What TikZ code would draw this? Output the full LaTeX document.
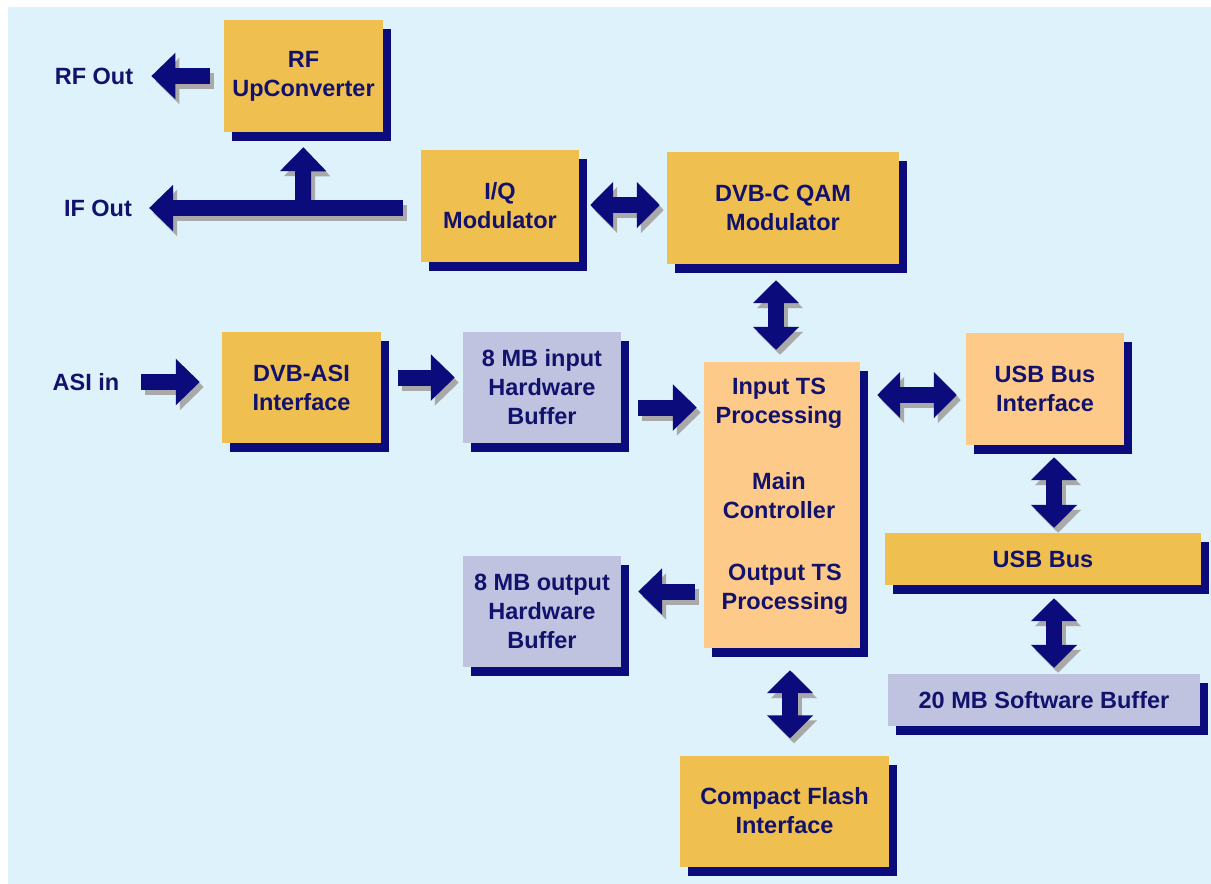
\documentclass[tikz,border=0pt]{standalone}
\usepackage{fontspec}
\setmainfont{Liberation Sans}
\usetikzlibrary{arrows.meta,shadows,calc}
\definecolor{bgblue}{HTML}{DDF2FA}
\definecolor{gold}{HTML}{EFBF50}
\definecolor{lorange}{HTML}{FDCA8A}
\definecolor{lavender}{HTML}{BFC3DF}
\definecolor{navy}{HTML}{0B0B7B}
\definecolor{txtnavy}{HTML}{12126C}
\definecolor{arrshadow}{HTML}{A9A9A9}
\tikzset{
  box/.style={rectangle, inner sep=0pt, text=txtnavy, align=center,
    font=\fontsize{23.5}{29}\selectfont\bfseries,
    drop shadow={shadow xshift=8pt, shadow yshift=-9pt, fill=navy, opacity=1}},
  goldbox/.style={box, fill=gold},
  orbox/.style={box, fill=lorange},
  lavbox/.style={box, fill=lavender},
  lbl/.style={inner sep=0pt, text=txtnavy, font=\fontsize{23.5}{29}\selectfont\bfseries},
  intext/.style={inner sep=0pt, text=txtnavy, align=center, font=\fontsize{23.5}{29}\selectfont\bfseries},
  harr/.style={line width=16pt, -{Triangle[length=24pt, width=45pt]}},
  darr/.style={line width=16pt, {Triangle[length=23pt, width=45pt]}-{Triangle[length=23pt, width=45pt]}},
  shadowpass/.style={draw=arrshadow, transform canvas={shift={(4pt,-5pt)}}},
  mainpass/.style={draw=navy}
}
\newcommand{\allarrows}[1]{%
\draw[#1, harr, shorten <=14pt, shorten >=18pt] (rf.west) -- (rflbl.east);
\draw[#1, harr, shorten <=18pt, shorten >=17pt] (iq.west |- ifj) -- (iflbl.east |- ifj);
\draw[#1, harr, shorten >=15pt] (ifj) -- (rf.south);
\draw[#1, darr, shorten <=11pt, shorten >=7pt] ([yshift=1pt]iq.east) -- ([yshift=1pt]iq.east -| qam.west);
\draw[#1, darr, shorten <=16pt, shorten >=12pt] ([xshift=-7pt]qam.south) -- ([xshift=-7pt]qam.south |- main.north);
\draw[#1, harr, shorten <=22pt, shorten >=22pt] (asilbl.east) -- (asilbl.east -| asi.west);
\draw[#1, harr, shorten <=17pt, shorten >=8pt] ([yshift=10pt]asi.east) -- ([yshift=10pt]asi.east -| inbuf.west);
\draw[#1, harr, shorten <=17pt, shorten >=7pt] ([yshift=-20pt]inbuf.east) -- ([yshift=-20pt]inbuf.east -| main.west);
\draw[#1, darr, shorten <=17pt, shorten >=9pt] ([yshift=-6pt]usbif.west -| main.east) -- ([yshift=-6pt]usbif.west);
\draw[#1, darr, shorten <=12pt, shorten >=5pt] ([xshift=9pt]usbif.south) -- ([xshift=9pt]usbif.south |- usb.north);
\draw[#1, darr, shorten <=13pt, shorten >=6pt] ([xshift=11pt]usb.south) -- ([xshift=11pt]usb.south |- swbuf.north);
\draw[#1, harr, shorten <=9pt, shorten >=17pt] ([yshift=20pt]outbuf.east -| main.west) -- ([yshift=20pt]outbuf.east);
\draw[#1, darr, shorten <=22pt, shorten >=17pt] ([xshift=8pt]main.south) -- ([xshift=8pt]main.south |- cf.north);
}
\begin{document}
\begin{tikzpicture}[x=1pt, y=-1pt]
\useasboundingbox (0,0) rectangle (1211,884);
\fill[white] (0,0) rectangle (1211,884);
\fill[bgblue] (8,7) rectangle (1211,884);

% boxes
\node[goldbox, minimum width=159pt, minimum height=112pt] (rf) at (303.5,76) {RF\\UpConverter};
\node[goldbox, minimum width=158pt, minimum height=112pt] (iq) at (500,206) {I/Q\\Modulator};
\node[goldbox, minimum width=232pt, minimum height=112pt] (qam) at (783,208) {DVB-C QAM\\Modulator};
\node[goldbox, minimum width=159pt, minimum height=111pt] (asi) at (301.5,387.5) {DVB-ASI\\Interface};
\node[lavbox, minimum width=158pt, minimum height=111pt] (inbuf) at (542,387.5) {8 MB input\\Hardware\\Buffer};
\node[orbox, minimum width=156pt, minimum height=286pt] (main) at (782,505) {};
\node[orbox, minimum width=158pt, minimum height=112pt] (usbif) at (1045,389) {USB Bus\\Interface};
\node[goldbox, minimum width=316pt, minimum height=52pt] (usb) at (1043,559) {USB Bus};
\node[lavbox, minimum width=312pt, minimum height=52pt] (swbuf) at (1044,700) {20 MB Software Buffer};
\node[lavbox, minimum width=158pt, minimum height=111pt] (outbuf) at (542,611.5) {8 MB output\\Hardware\\Buffer};
\node[goldbox, minimum width=209pt, minimum height=111pt] (cf) at (784.5,811) {Compact Flash\\Interface};

% main box texts
\node[intext] (mainA) at (779,403) {Input TS\\Processing};
\node[intext] (mainB) at (779,496) {Main\\Controller};
\node[intext] (mainC) at (785,589) {Output TS\\Processing};

% side labels
\node[lbl] (rflbl) at (94,76) {RF Out};
\node[lbl] (iflbl) at (98,208) {IF Out};
\node[lbl] (asilbl) at (86,382) {ASI in};

\coordinate (ifj) at (303,208);

% arrows: shadows first, then the navy arrows
\allarrows{shadowpass}
\allarrows{mainpass}
\end{tikzpicture}
\end{document}
